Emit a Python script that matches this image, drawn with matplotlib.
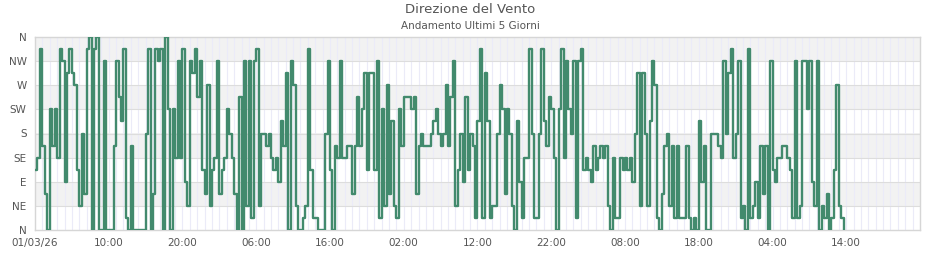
import numpy as np
import pandas as pd
from matplotlib import pyplot as plt

# 16-point compass sector (0 = N, 4 = E, 8 = S, 12 = W), one reading every 20 minutes
dir_sector = [
    5, 6, 15, 7, 3, 0, 10, 7, 10, 6, 15, 14, 4, 13, 15, 13, 12, 5, 2, 8,
    3, 15, 16, 0, 15, 16, 0, 0, 14, 0, 0, 0, 7, 14, 11, 9, 15, 1, 0, 7,
    0, 0, 0, 0, 0, 8, 15, 0, 3, 15, 14, 15, 0, 16, 10, 0, 10, 6, 14, 6,
    15, 4, 2, 14, 13, 15, 11, 14, 5, 3, 12, 2, 5, 6, 14, 3, 5, 6, 10, 8,
    6, 3, 0, 11, 0, 14, 2, 14, 1, 14, 15, 2, 8, 8, 7, 8, 6, 5, 6, 4,
    9, 7, 13, 0, 14, 12, 2, 0, 0, 1, 2, 15, 5, 1, 1, 0, 0, 0, 8, 14,
    5, 0, 7, 6, 14, 6, 6, 7, 7, 3, 7, 11, 7, 10, 13, 5, 13, 13, 5, 14,
    1, 10, 2, 12, 3, 9, 2, 1, 10, 7, 11, 11, 11, 10, 11, 3, 7, 8, 7, 7,
    7, 8, 9, 10, 8, 7, 8, 12, 7, 11, 14, 2, 5, 8, 4, 11, 5, 8, 7, 1,
    9, 15, 1, 13, 9, 1, 2, 2, 8, 12, 10, 3, 10, 8, 2, 0, 9, 4, 1, 6,
    6, 15, 8, 1, 1, 8, 15, 9, 7, 11, 10, 6, 0, 10, 15, 6, 14, 10, 8, 14,
    1, 14, 15, 5, 6, 5, 4, 7, 5, 6, 7, 6, 7, 2, 0, 6, 1, 1, 6, 5,
    6, 5, 6, 4, 8, 13, 2, 13, 8, 2, 9, 14, 12, 1, 0, 3, 7, 8, 2, 7,
    1, 7, 1, 1, 1, 7, 1, 0, 1, 0, 9, 4, 7, 0, 0, 8, 8, 8, 7, 6,
    14, 8, 13, 15, 6, 8, 14, 1, 2, 0, 15, 1, 2, 4, 1, 7, 3, 7, 0, 14,
    5, 4, 6, 6, 7, 7, 6, 5, 1, 14, 1, 2, 14, 14, 10, 14, 4, 2, 14, 0,
    2, 1, 3, 0, 1, 5, 12, 2, 1, 0,
]
dir_labels = ['N', 'NE', 'E', 'SE', 'S', 'SW', 'W', 'NW', 'N']
time_labels = ['01/03/26', '10:00', '20:00', '06:00', '16:00', '02:00',
               '12:00', '22:00', '08:00', '18:00', '04:00', '14:00']

start = pd.Timestamp('2026-03-01 00:00')
times = pd.date_range(start, periods=len(dir_sector), freq='20min')
degrees = np.array(dir_sector) * 22.5

fig = plt.figure(figsize=(9.4, 2.6), dpi=100)
ax = fig.add_axes([35 / 940, 1 - 230 / 260, 885 / 940, 193 / 260])

# alternating horizontal bands
for lo in range(45, 360, 90):
    ax.axhspan(lo, lo + 45, color='#f2f2f2', zorder=0, lw=0)

end = start + pd.Timedelta(hours=120)
for h in pd.date_range(start, end, freq='1h')[1:-1]:
    ax.axvline(h, color='#ebebf8', lw=0.8, zorder=1)
for d in range(45, 360, 45):
    ax.axhline(d, color='#dddddd', lw=0.8, zorder=1)

ax.plot(times, degrees, color='#428a6d', lw=1.7, drawstyle='steps-post', zorder=3)

ax.set_xlim(start, end)
ax.set_ylim(0, 360)
ax.set_yticks(range(0, 361, 45))
ax.set_yticklabels(dir_labels)
ax.set_xticks(pd.date_range(start, periods=len(time_labels), freq='10h'))
ax.set_xticklabels(time_labels)
ax.tick_params(length=0, colors='#555555', labelsize=7.5, pad=6)

for s in ax.spines.values():
    s.set_color('#d6d6d6')
    s.set_linewidth(1)

fig.text(0.5, 0.962, 'Direzione del Vento', ha='center', va='center',
         fontsize=9.5, color='#555555')
fig.text(0.5, 0.9, 'Andamento Ultimi 5 Giorni', ha='center', va='center',
         fontsize=7.5, color='#555555')

plt.savefig('out.png', dpi=100)
